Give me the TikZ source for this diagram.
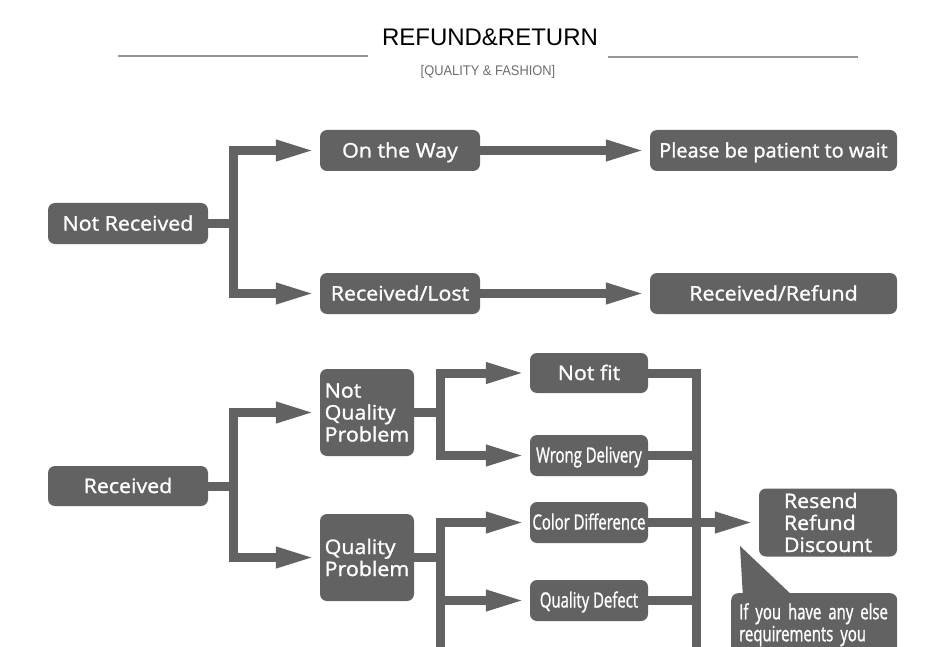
\documentclass[tikz,border=0pt]{standalone}
\usepackage{fontspec}
\setmainfont{Open Sans}
\newfontfamily\boxfont[FakeBold=1.3,FakeStretch=1.07]{Open Sans}
\newfontfamily\widefont[FakeBold=1.3]{Open Sans}
\newfontfamily\titlefont{Liberation Sans}
\newfontfamily\subfont[FakeStretch=0.92]{Liberation Sans}
\newfontfamily\condfont[FakeBold=1.1,FakeStretch=0.71]{Open Sans}
\usetikzlibrary{arrows.meta,calc}
\definecolor{boxgray}{RGB}{98,98,98}
\definecolor{rulegray}{RGB}{150,150,150}
\definecolor{subgray}{RGB}{110,110,110}
\begin{document}
\begin{tikzpicture}[x=1pt,y=-1pt,
  box/.style={fill=boxgray, rounded corners=7pt, text=white, inner sep=0pt,
    align=left, font=\boxfont\fontsize{20}{22}\selectfont},
  one/.style={text height=14pt, text depth=0pt},
  cbox/.style={box, one, font=\condfont\fontsize{21}{22}\selectfont},
  conn/.style={draw=boxgray, line width=9pt},
  arr/.style={conn, -{Triangle[length=40pt,width=19pt]}, shorten >=4pt}]
\useasboundingbox (0,0) rectangle (950,647);
\clip (0,0) rectangle (950,647);
\fill[white] (0,0) rectangle (950,647);
% header
\node[font=\titlefont\fontsize{24}{28}\selectfont, text=black] (title) at (490,37) {REFUND\&RETURN};
\node[font=\subfont\fontsize{14}{16}\selectfont, text=subgray] (sub) at (488,71.5) {[QUALITY \& FASHION]};
\coordinate (l1) at (118,56);
\coordinate (l2) at (368,56);
\coordinate (r1) at (608,57);
\coordinate (r2) at (858,57);
\draw[rulegray, line width=1.3pt] (l1) -- (l2);
\draw[rulegray, line width=1.3pt] (r1) -- (r2);
% upper flow
\node[box, one, minimum width=160pt, minimum height=41pt] (nr) at (128,223.5) {Not Received};
\node[box, one, minimum width=160pt, minimum height=41pt] (otw) at (400,150.5) {On the Way};
\node[box, one, minimum width=160pt, minimum height=41pt] (rl) at (400,293.5) {Received/Lost};
\node[box, one, minimum width=247pt, minimum height=41pt, font=\widefont\fontsize{20}{22}\selectfont] (pat) at (773.5,150.5) {Please be patient to wait};
\node[box, one, minimum width=247pt, minimum height=41pt] (rr) at (773.5,293.5) {Received/Refund};
\draw[arr] (nr.east) -- ++(25,0) |- (otw.west);
\draw[arr] (nr.east) -- ++(25,0) |- (rl.west);
\draw[arr] (otw.east) -- (pat.west);
\draw[arr] (rl.east) -- (rr.west);
% lower flow
\node[box, one, minimum width=160pt, minimum height=40pt] (rc) at (128,486) {Received};
\node[box, minimum width=94pt, minimum height=87pt] (nqp) at (367,412.5) {Not\\Quality\\Problem};
\node[box, minimum width=94pt, minimum height=87pt] (qp) at (367,557.5) {Quality\\Problem};
\node[box, one, minimum width=118pt, minimum height=40pt] (nf) at (589,373) {Not fit};
\node[cbox, minimum width=118pt, minimum height=41pt] (wd) at (589,455.5) {Wrong Delivery};
\node[cbox, minimum width=118pt, minimum height=41pt] (cd) at (589,522.5) {Color Difference};
\node[cbox, minimum width=118pt, minimum height=41pt] (qd) at (589,600.5) {Quality Defect};
\node[box, minimum width=138pt, minimum height=68pt] (rs) at (828,522.5) {Resend\\Refund\\Discount};
\node[box, font=\condfont\fontsize{21}{22}\selectfont, anchor=north west, text width=150pt, inner xsep=8pt, inner ysep=10pt] (note) at (731,593)
  {If you have any else\\requirements you};
\coordinate (tip) at (740,546);
\fill[boxgray] (tip) -- ($(note.north west)+(12,5)$) -- ($(note.north west)+(64,5)$) -- cycle;
\draw[arr] (rc.east) -- ++(25,0) |- (nqp.west);
\draw[arr] (rc.east) -- ++(25,0) |- (qp.west);
\draw[arr] (nqp.east) -- ++(26,0) |- (nf.west);
\draw[arr] (nqp.east) -- ++(26,0) |- (wd.west);
\draw[conn] (qp.east) -- ++(26,0) coordinate (lc);
\draw[arr] (lc) |- (cd.west);
\draw[arr] (lc) |- (qd.west);
\coordinate (bot) at (0,670);
\draw[conn] (lc) -- (lc |- bot);
\draw[conn] (nf.east) -- ++(48,0) coordinate (rcol) -- (rcol |- bot);
\draw[conn] (wd.east) -- (wd.east -| rcol);
\draw[conn] (qd.east) -- (qd.east -| rcol);
\draw[arr] (cd.east) -- (cd.east -| rs.west);
\end{tikzpicture}
\end{document}
